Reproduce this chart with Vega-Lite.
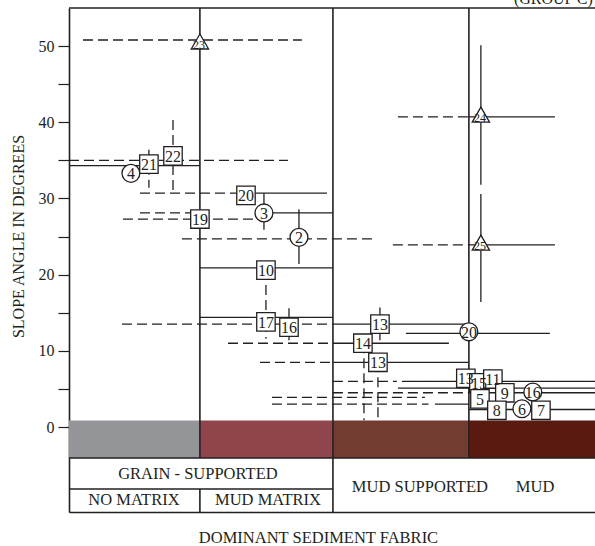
{
  "$schema": "https://vega.github.io/schema/vega-lite/v6.json",
  "width": 526,
  "height": 504,
  "autosize": {"type": "none"},
  "padding": {"left": 69, "top": 8, "right": 0, "bottom": 34},
  "background": "white",
  "config": {
    "view": {"stroke": null},
    "font": "Liberation Serif",
    "text": {"font": "Liberation Serif", "color": "#231f20"}
  },
  "datasets": {
    "band": [
      {"x": 0, "x2": 0.983, "y": 0.85, "y2": -4.07, "fabric": "NO MATRIX"},
      {"x": 0.983, "x2": 1.982, "y": 0.85, "y2": -4.07, "fabric": "MUD MATRIX"},
      {"x": 1.982, "x2": 3.003, "y": 0.85, "y2": -4.07, "fabric": "MUD SUPPORTED"},
      {"x": 3.003, "x2": 3.95, "y": 0.85, "y2": -4.07, "fabric": "MUD"}
    ],
    "frame": [
      {"x": 0, "x2": 3.95, "y": 55, "y2": 55},
      {"x": 0.983, "x2": 0.983, "y": 55, "y2": -4.07},
      {"x": 0.983, "x2": 0.983, "y": -8.14, "y2": -11.15},
      {"x": 1.982, "x2": 1.982, "y": 55, "y2": -11.15},
      {"x": 3.003, "x2": 3.003, "y": 55, "y2": -4.07},
      {"x": 0, "x2": 3.95, "y": -4.07, "y2": -4.07},
      {"x": 0, "x2": 1.982, "y": -8.14, "y2": -8.14}
    ],
    "lines": [
      {"x": 0.105, "x2": 1.749, "y": 50.8, "y2": 50.8, "kind": "dashed"},
      {"x": 0, "x2": 1.644, "y": 35.0, "y2": 35.0, "kind": "dashed"},
      {"x": 0, "x2": 0.983, "y": 34.3, "y2": 34.3, "kind": "solid"},
      {"x": 0.6, "x2": 0.6, "y": 36.4, "y2": 31.4, "kind": "dashed"},
      {"x": 0.781, "x2": 0.781, "y": 40.3, "y2": 31.1, "kind": "dashed"},
      {"x": 0.533, "x2": 1.329, "y": 30.7, "y2": 30.7, "kind": "dashed"},
      {"x": 1.329, "x2": 1.937, "y": 30.7, "y2": 30.7, "kind": "solid"},
      {"x": 1.464, "x2": 1.464, "y": 30.7, "y2": 25.9, "kind": "solid"},
      {"x": 0.533, "x2": 0.92, "y": 28.1, "y2": 28.1, "kind": "dashed"},
      {"x": 1.464, "x2": 1.982, "y": 28.1, "y2": 28.1, "kind": "solid"},
      {"x": 0.405, "x2": 1.396, "y": 27.3, "y2": 27.3, "kind": "dashed"},
      {"x": 0.848, "x2": 2.297, "y": 24.7, "y2": 24.7, "kind": "dashed"},
      {"x": 1.727, "x2": 1.727, "y": 28.6, "y2": 21.4, "kind": "solid"},
      {"x": 0.983, "x2": 1.982, "y": 20.9, "y2": 20.9, "kind": "solid"},
      {"x": 1.479, "x2": 1.479, "y": 20.6, "y2": 13.8, "kind": "dashed"},
      {"x": 0.983, "x2": 1.982, "y": 14.4, "y2": 14.4, "kind": "solid"},
      {"x": 1.479, "x2": 1.479, "y": 13.8, "y2": 11.6, "kind": "dashed"},
      {"x": 0.398, "x2": 1.982, "y": 13.5, "y2": 13.5, "kind": "dashed"},
      {"x": 1.982, "x2": 2.995, "y": 13.5, "y2": 13.5, "kind": "solid"},
      {"x": 1.652, "x2": 1.652, "y": 15.6, "y2": 11.4, "kind": "solid"},
      {"x": 2.335, "x2": 2.335, "y": 15.7, "y2": 11.4, "kind": "solid"},
      {"x": 2.53, "x2": 3.611, "y": 12.3, "y2": 12.3, "kind": "solid"},
      {"x": 1.194, "x2": 1.982, "y": 11.0, "y2": 11.0, "kind": "dashed"},
      {"x": 1.982, "x2": 2.853, "y": 11.0, "y2": 11.0, "kind": "solid"},
      {"x": 2.215, "x2": 2.215, "y": 11.0, "y2": 0.9, "kind": "dashed"},
      {"x": 1.434, "x2": 1.982, "y": 8.5, "y2": 8.5, "kind": "dashed"},
      {"x": 1.982, "x2": 3.003, "y": 8.5, "y2": 8.5, "kind": "solid"},
      {"x": 2.32, "x2": 2.32, "y": 8.5, "y2": 0.9, "kind": "dashed"},
      {"x": 1.982, "x2": 2.462, "y": 6.0, "y2": 6.0, "kind": "dashed"},
      {"x": 2.5, "x2": 3.95, "y": 6.0, "y2": 6.0, "kind": "thick"},
      {"x": 2.47, "x2": 3.95, "y": 5.1, "y2": 5.1, "kind": "solid"},
      {"x": 1.982, "x2": 3.003, "y": 4.5, "y2": 4.5, "kind": "dashed"},
      {"x": 3.003, "x2": 3.95, "y": 4.5, "y2": 4.5, "kind": "solid"},
      {"x": 1.524, "x2": 2.673, "y": 3.9, "y2": 3.9, "kind": "dashed"},
      {"x": 1.524, "x2": 2.7, "y": 3.0, "y2": 3.0, "kind": "dashed"},
      {"x": 2.748, "x2": 3.003, "y": 3.0, "y2": 3.0, "kind": "solid"},
      {"x": 3.003, "x2": 3.95, "y": 2.3, "y2": 2.3, "kind": "heavy"},
      {"x": 2.47, "x2": 3.003, "y": 40.7, "y2": 40.7, "kind": "dashed"},
      {"x": 3.003, "x2": 3.649, "y": 40.7, "y2": 40.7, "kind": "solid"},
      {"x": 3.093, "x2": 3.093, "y": 50.1, "y2": 31.8, "kind": "solid"},
      {"x": 2.432, "x2": 3.003, "y": 23.9, "y2": 23.9, "kind": "dashed"},
      {"x": 3.003, "x2": 3.649, "y": 23.9, "y2": 23.9, "kind": "solid"},
      {"x": 3.093, "x2": 3.093, "y": 30.6, "y2": 16.4, "kind": "solid"}
    ],
    "marks": [
      {"x": 0.983, "y": 50.6, "shape": "tri", "label": "23"},
      {"x": 3.093, "y": 41.0, "shape": "tri", "label": "24"},
      {"x": 3.093, "y": 24.2, "shape": "tri", "label": "25"},
      {"x": 0.465, "y": 33.3, "shape": "ci", "label": "4"},
      {"x": 0.6, "y": 34.5, "shape": "sq", "label": "21"},
      {"x": 0.781, "y": 35.6, "shape": "sq", "label": "22"},
      {"x": 1.329, "y": 30.4, "shape": "sq", "label": "20"},
      {"x": 0.983, "y": 27.3, "shape": "sq", "label": "19"},
      {"x": 1.464, "y": 28.1, "shape": "ci", "label": "3"},
      {"x": 1.727, "y": 24.9, "shape": "ci", "label": "2"},
      {"x": 1.479, "y": 20.6, "shape": "sq", "label": "10"},
      {"x": 1.479, "y": 13.8, "shape": "sq", "label": "17"},
      {"x": 1.652, "y": 13.1, "shape": "sq", "label": "16"},
      {"x": 2.335, "y": 13.5, "shape": "sq", "label": "13"},
      {"x": 2.207, "y": 11.0, "shape": "sq", "label": "14"},
      {"x": 2.32, "y": 8.5, "shape": "sq", "label": "13"},
      {"x": 3.003, "y": 12.5, "shape": "ci", "label": "20"},
      {"x": 2.98, "y": 6.4, "shape": "sq", "label": "13"},
      {"x": 3.078, "y": 5.8, "shape": "sq", "label": "15"},
      {"x": 3.183, "y": 6.3, "shape": "sq", "label": "11"},
      {"x": 3.273, "y": 4.5, "shape": "sq", "label": "9"},
      {"x": 3.086, "y": 3.7, "shape": "sq", "label": "5"},
      {"x": 3.213, "y": 2.2, "shape": "sq", "label": "8"},
      {"x": 3.483, "y": 4.6, "shape": "ci", "label": "16"},
      {"x": 3.401, "y": 2.4, "shape": "ci", "label": "6"},
      {"x": 3.544, "y": 2.2, "shape": "sq", "label": "7"}
    ],
    "table": [
      {"x": 0.968, "y": -6.2, "text": "GRAIN - SUPPORTED"},
      {"x": 0.488, "y": -9.6, "text": "NO MATRIX"},
      {"x": 1.494, "y": -9.6, "text": "MUD MATRIX"},
      {"x": 2.635, "y": -7.9, "text": "MUD SUPPORTED"},
      {"x": 3.5, "y": -7.9, "text": "MUD"}
    ],
    "corner": [
      {"x": 3.934, "y": 55.52, "text": "(GROUP C)"}
    ]
  },
  "encoding": {
    "x": {
      "field": "x", "type": "quantitative",
      "scale": {"domain": [0, 3.95], "nice": false, "zero": false},
      "axis": {
        "orient": "bottom", "title": "DOMINANT SEDIMENT FABRIC",
        "labels": false, "ticks": false, "grid": false,
        "domain": true, "domainColor": "#231f20", "domainWidth": 1.6,
        "titleFont": "Liberation Serif", "titleFontSize": 16.5, "titleFontWeight": "normal",
        "titleColor": "#231f20", "titleX": 249, "titlePadding": 17
      }
    },
    "y": {
      "field": "y", "type": "quantitative",
      "scale": {"domain": [-11.15, 55], "nice": false, "zero": false},
      "axis": {
        "orient": "left", "title": "SLOPE ANGLE IN DEGREES",
        "values": [0, 5, 10, 15, 20, 25, 30, 35, 40, 45, 50],
        "labelExpr": "datum.value % 10 === 0 ? datum.label : ''",
        "grid": false, "domain": true, "domainColor": "#231f20", "domainWidth": 1.6,
        "ticks": true, "tickSize": 11, "tickColor": "#231f20", "tickWidth": 1.2,
        "labelFont": "Liberation Serif", "labelFontSize": 16, "labelColor": "#231f20", "labelPadding": 4,
        "titleFont": "Liberation Serif", "titleFontSize": 16, "titleFontWeight": "normal",
        "titleColor": "#231f20", "titleAngle": 270, "titleX": -51, "titleY": 228,
        "titleAlign": "center", "titleBaseline": "middle"
      }
    }
  },
  "layer": [
    {
      "data": {"name": "band"},
      "mark": {"type": "rect"},
      "encoding": {
        "x2": {"field": "x2"},
        "y2": {"field": "y2"},
        "color": {
          "field": "fabric", "type": "nominal", "legend": null,
          "scale": {"domain": ["NO MATRIX", "MUD MATRIX", "MUD SUPPORTED", "MUD"],
                    "range": ["#939598", "#8f454b", "#733c30", "#5b1a0f"]}
        }
      }
    },
    {
      "data": {"name": "frame"},
      "mark": {"type": "rule", "color": "#231f20", "strokeWidth": 1.6},
      "encoding": {
        "x2": {"field": "x2"},
        "y2": {"field": "y2"}
      }
    },
    {
      "data": {"name": "lines"},
      "mark": {"type": "rule", "color": "#231f20"},
      "encoding": {
        "x2": {"field": "x2"},
        "y2": {"field": "y2"},
        "strokeDash": {
          "field": "kind", "type": "nominal", "legend": null,
          "scale": {"domain": ["solid", "dashed", "thick", "heavy"],
                    "range": [[1, 0], [10, 5], [1, 0], [1, 0]]}
        },
        "strokeWidth": {
          "field": "kind", "type": "ordinal", "legend": null,
          "scale": {"domain": ["solid", "dashed", "thick", "heavy"],
                    "range": [1.3, 1.3, 3, 6]}
        }
      }
    },
    {
      "data": {"name": "marks"},
      "mark": {"type": "point", "filled": true, "fill": "white", "fillOpacity": 1,
               "stroke": "#231f20", "strokeWidth": 1.3, "strokeOpacity": 1, "opacity": 1},
      "encoding": {
        "shape": {
          "field": "shape", "type": "nominal", "legend": null,
          "scale": {"domain": ["sq", "ci", "tri"], "range": ["square", "circle", "triangle-up"]}
        },
        "size": {
          "field": "shape", "type": "ordinal", "legend": null,
          "scale": {"domain": ["sq", "ci", "tri"], "range": [340, 300, 520]}
        }
      }
    },
    {
      "data": {"name": "marks"},
      "transform": [{"filter": "datum.shape !== 'tri'"}],
      "mark": {"type": "text", "fontSize": 16, "baseline": "middle", "align": "center", "dy": 1, "color": "#231f20"},
      "encoding": {
        "text": {"field": "label", "type": "nominal"}
      }
    },
    {
      "data": {"name": "marks"},
      "transform": [{"filter": "datum.shape === 'tri'"}],
      "mark": {"type": "text", "fontSize": 12, "baseline": "middle", "align": "center", "dy": 3, "dx": -1, "color": "#231f20"},
      "encoding": {
        "text": {"field": "label", "type": "nominal"}
      }
    },
    {
      "data": {"name": "table"},
      "mark": {"type": "text", "fontSize": 16.5, "baseline": "middle", "align": "center", "color": "#231f20"},
      "encoding": {
        "text": {"field": "text", "type": "nominal"}
      }
    },
    {
      "data": {"name": "corner"},
      "mark": {"type": "text", "fontSize": 16, "baseline": "alphabetic", "align": "right", "color": "#231f20"},
      "encoding": {
        "text": {"field": "text", "type": "nominal"}
      }
    }
  ]
}
